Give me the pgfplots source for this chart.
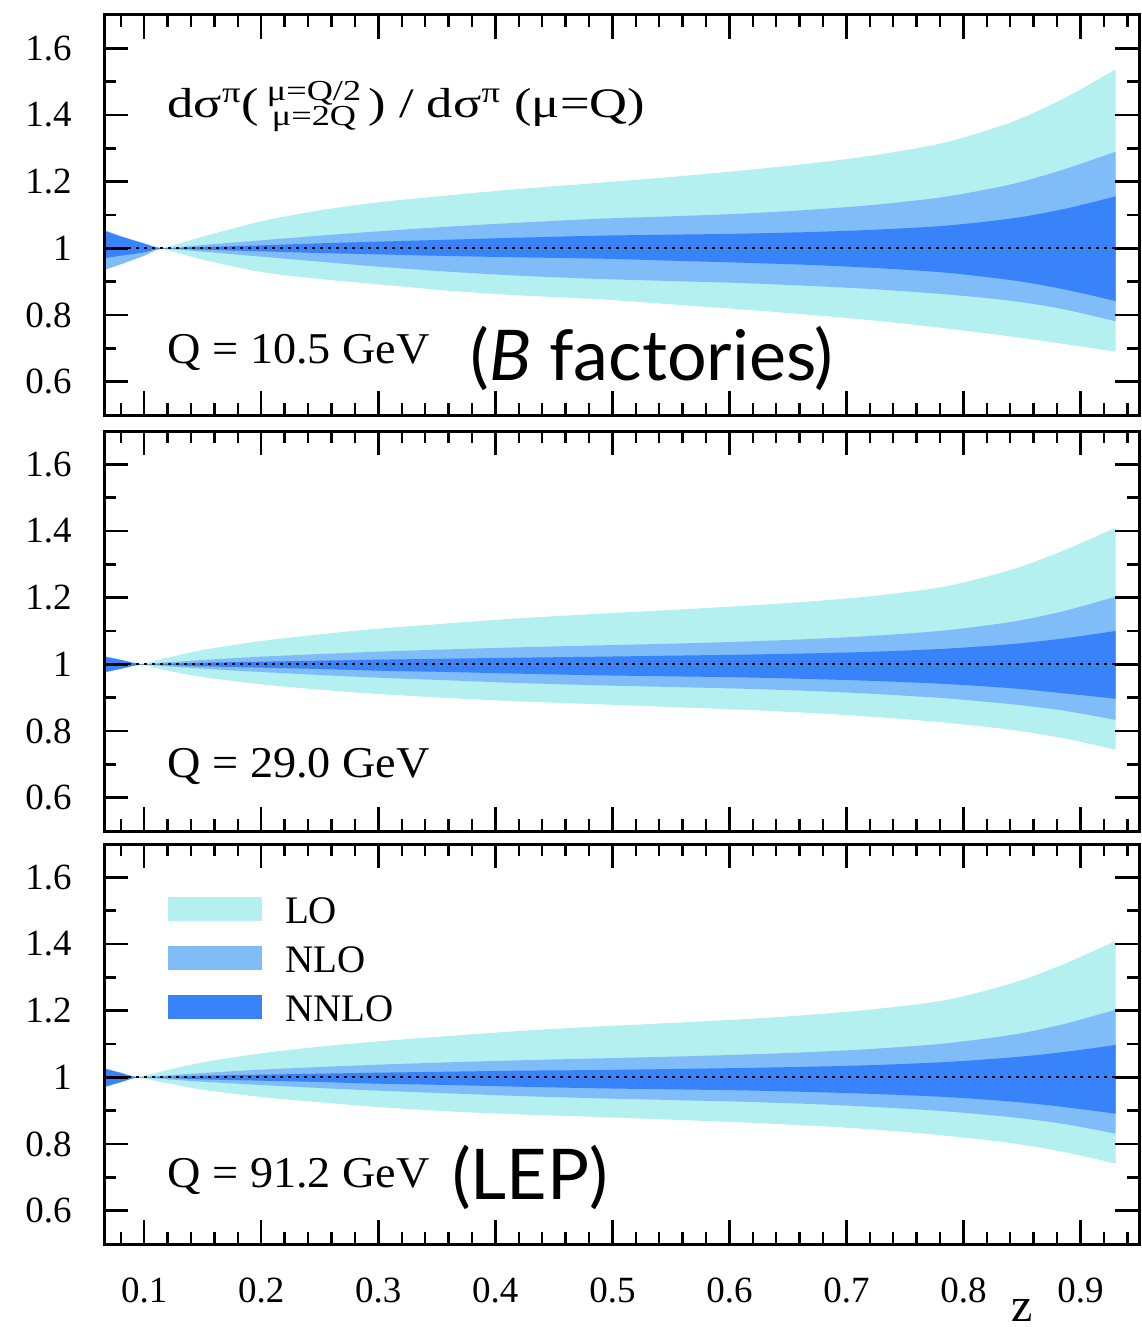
\documentclass[border=0pt]{standalone}
\usepackage{fontspec}
\setmainfont{Liberation Serif}
\newfontfamily\gill{Lato}
\usepackage{pgfplots}
\usepackage{pgfplotstable}
\usepgfplotslibrary{fillbetween}
\pgfplotsset{compat=1.18}
\definecolor{locol}{RGB}{180,240,240}
\definecolor{nlocol}{RGB}{128,188,248}
\definecolor{nnlocol}{RGB}{56,131,250}

\pgfplotstableread{
z LOu LOl NLOu NLOl NNLOu NNLOl
0.0656 1.030 0.975 1.055 0.935 1.053 0.970
0.08   1.020 0.983 1.037 0.952 1.035 0.978
0.10   1.008 0.993 1.015 0.978 1.014 0.988
0.115  1.001 0.999 1.001 0.998 1.001 0.999
0.15   1.035 0.966 1.010 0.990 1.004 0.996
0.20   1.081 0.929 1.024 0.975 1.009 0.991
0.25   1.114 0.908 1.038 0.960 1.015 0.986
0.30   1.138 0.892 1.051 0.945 1.020 0.982
0.36   1.159 0.873 1.065 0.930 1.026 0.977
0.42   1.178 0.859 1.077 0.918 1.032 0.973
0.49   1.197 0.847 1.089 0.908 1.038 0.969
0.55   1.214 0.832 1.096 0.902 1.041 0.963
0.61   1.233 0.817 1.104 0.896 1.044 0.957
0.67   1.255 0.800 1.116 0.887 1.049 0.950
0.725  1.280 0.783 1.131 0.877 1.056 0.941
0.785  1.318 0.760 1.155 0.862 1.068 0.927
0.842  1.380 0.735 1.193 0.842 1.090 0.904
0.886  1.450 0.713 1.237 0.817 1.118 0.877
0.93   1.537 0.690 1.290 0.781 1.156 0.842
}\tabA

\pgfplotstableread{
z LOu LOl NLOu NLOl NNLOu NNLOl
0.0656 1.010 0.988 1.025 0.975 1.023 0.977
0.08   1.006 0.993 1.014 0.986 1.013 0.987
0.097  1.001 0.999 1.001 0.999 1.001 0.999
0.12   1.020 0.981 1.006 0.994 1.002 0.998
0.15   1.043 0.962 1.013 0.987 1.005 0.994
0.20   1.070 0.940 1.023 0.977 1.008 0.990
0.25   1.090 0.924 1.031 0.968 1.011 0.986
0.30   1.107 0.911 1.038 0.960 1.014 0.981
0.36   1.123 0.899 1.045 0.952 1.017 0.977
0.42   1.138 0.889 1.051 0.944 1.020 0.972
0.49   1.152 0.880 1.057 0.937 1.023 0.967
0.55   1.163 0.872 1.062 0.932 1.026 0.964
0.61   1.175 0.864 1.068 0.927 1.029 0.961
0.67   1.189 0.854 1.076 0.920 1.033 0.956
0.725  1.206 0.842 1.086 0.911 1.038 0.950
0.785  1.234 0.825 1.102 0.898 1.047 0.941
0.842  1.285 0.803 1.128 0.880 1.061 0.928
0.886  1.342 0.778 1.160 0.861 1.078 0.913
0.93   1.410 0.744 1.203 0.833 1.100 0.897
}\tabB

\pgfplotstableread{
z LOu LOl NLOu NLOl NNLOu NNLOl
0.0656 1.012 0.985 1.028 0.970 1.026 0.972
0.08   1.005 0.993 1.014 0.985 1.013 0.986
0.094  1.001 0.999 1.001 0.999 1.001 0.999
0.12   1.022 0.982 1.006 0.994 1.002 0.998
0.15   1.045 0.963 1.013 0.987 1.005 0.994
0.20   1.072 0.941 1.023 0.977 1.008 0.990
0.25   1.092 0.925 1.031 0.968 1.011 0.986
0.30   1.108 0.911 1.038 0.960 1.014 0.981
0.36   1.124 0.898 1.045 0.952 1.017 0.977
0.42   1.139 0.889 1.051 0.944 1.020 0.972
0.49   1.153 0.881 1.057 0.937 1.022 0.967
0.55   1.163 0.873 1.062 0.932 1.025 0.964
0.61   1.174 0.865 1.068 0.927 1.028 0.961
0.67   1.188 0.855 1.076 0.920 1.032 0.956
0.725  1.205 0.843 1.086 0.911 1.037 0.950
0.785  1.232 0.825 1.102 0.898 1.046 0.941
0.842  1.283 0.802 1.128 0.880 1.060 0.927
0.886  1.340 0.776 1.160 0.860 1.076 0.911
0.93   1.409 0.741 1.203 0.831 1.097 0.891
}\tabC

\newcommand{\bands}[1]{%
  \addplot[name path=LOu, draw=none, smooth, forget plot] table[x=z,y=LOu]{#1};
  \addplot[name path=LOl, draw=none, smooth, forget plot] table[x=z,y=LOl]{#1};
  \addplot[name path=NLOu, draw=none, smooth, forget plot] table[x=z,y=NLOu]{#1};
  \addplot[name path=NLOl, draw=none, smooth, forget plot] table[x=z,y=NLOl]{#1};
  \addplot[name path=NNLOu, draw=none, smooth, forget plot] table[x=z,y=NNLOu]{#1};
  \addplot[name path=NNLOl, draw=none, smooth, forget plot] table[x=z,y=NNLOl]{#1};
  \addplot[fill=locol, draw=none, forget plot] fill between[of=LOu and LOl];
  \addplot[fill=nlocol, draw=none, forget plot] fill between[of=NLOu and NLOl];
  \addplot[fill=nnlocol, draw=none, forget plot] fill between[of=NNLOu and NNLOl];
  \addplot[black, line width=1.1pt, dash pattern=on 1.6pt off 2.4pt, forget plot] coordinates {(0.0656,1) (0.95,1)};
}

\pgfplotsset{panel/.style={
  scale only axis, width=517.5pt, height=200pt,
  xmin=0.0656, xmax=0.95, ymin=0.5, ymax=1.7,
  clip=false,
  axis line style={line width=1.5pt},
  xtick={0.1,0.2,0.3,0.4,0.5,0.6,0.7,0.8,0.9},
  minor xtick={0.08,0.12,0.14,0.16,0.18,0.22,0.24,0.26,0.28,0.32,0.34,0.36,0.38,0.42,0.44,0.46,0.48,0.52,0.54,0.56,0.58,0.62,0.64,0.66,0.68,0.72,0.74,0.76,0.78,0.82,0.84,0.86,0.88,0.92,0.94},
  ytick={0.6,0.8,1,1.2,1.4,1.6},
  minor ytick={0.7,0.9,1.1,1.3,1.5},
  tick align=inside, tick pos=both, ticklabel pos=left,
  major tick length=12pt, minor tick length=6pt,
  every tick/.style={black, line width=1.2pt},
  tick label style={font=\fontsize{18.5}{18.5}\selectfont},
  /pgf/number format/assume math mode=true,
  yticklabel style={anchor=east, inner sep=0pt, xshift=-16pt},
  xticklabel style={anchor=north, inner sep=0pt, yshift=-16.5pt},
  axis on top,
}}

\begin{document}
\begin{tikzpicture}
% Panel 1
\begin{axis}[panel, at={(0pt,0pt)}, anchor=north west, xticklabels={}]
\bands{\tabA}
\node[anchor=base west, inner sep=0pt, font=\fontsize{21}{25}\selectfont] at (rel axis cs:0.061,0.744)
  {\scalebox{1.25}[1]{dσ\textsuperscript{π}(\hspace{3pt}$\vcenter{\hbox{\fontsize{14.5}{13}\selectfont\begin{tabular}{@{}c@{}}μ=Q/2\\[-1pt]μ=2Q\end{tabular}}}$\hspace{3pt}) / dσ\textsuperscript{π} (μ=Q)}};
\node[anchor=base west, inner sep=0pt, font=\fontsize{22}{26}\selectfont] at (rel axis cs:0.061,0.128) {\scalebox{1.05}[1]{Q = 10.5 GeV}};
\node[anchor=base west, inner sep=0pt, font=\gill\fontsize{35}{38}\selectfont] at (rel axis cs:0.354,0.085) {(\textit{B} factories)};
\end{axis}
% Panel 2
\begin{axis}[panel, at={(0pt,-208pt)}, anchor=north west, xticklabels={}]
\bands{\tabB}
\node[anchor=base west, inner sep=0pt, font=\fontsize{22}{26}\selectfont] at (rel axis cs:0.061,0.134) {\scalebox{1.05}[1]{Q = 29.0 GeV}};
\end{axis}
% Panel 3
\begin{axis}[panel, at={(0pt,-414.5pt)}, anchor=north west,
  legend style={at={(rel axis cs:0.062,0.868)}, anchor=north west, draw=none, fill=none,
    inner sep=0pt, outer sep=0pt, row sep=11pt, font=\fontsize{19.5}{19.5}\selectfont,
    nodes={inner sep=0pt, text depth=0pt, anchor=base west}},
  legend cell align=left,
  legend image code/.code={\fill[#1] (0pt,1.5pt) rectangle (47pt,13.5pt); \path (58.5pt,0pt);},
]
\bands{\tabC}
\addlegendimage{fill=locol, draw=none}
\addlegendentry{LO}
\addlegendimage{fill=nlocol, draw=none}
\addlegendentry{NLO}
\addlegendimage{fill=nnlocol, draw=none}
\addlegendentry{NNLO}
\node[anchor=base west, inner sep=0pt, font=\fontsize{22}{26}\selectfont] at (rel axis cs:0.061,0.142) {\scalebox{1.05}[1]{Q = 91.2 GeV}};
\node[anchor=base west, inner sep=0pt, font=\gill\fontsize{35}{38}\selectfont] at (rel axis cs:0.336,0.112) {(LEP)};
\node[anchor=base, inner sep=0pt, font=\fontsize{24}{26}\selectfont] at (rel axis cs:0.887,0) [yshift=-38.5pt] {z};
\end{axis}
\pgfresetboundingbox
\path[use as bounding box] (-52pt,7.5pt) rectangle (518.5pt,-656pt);
\end{tikzpicture}
\end{document}
